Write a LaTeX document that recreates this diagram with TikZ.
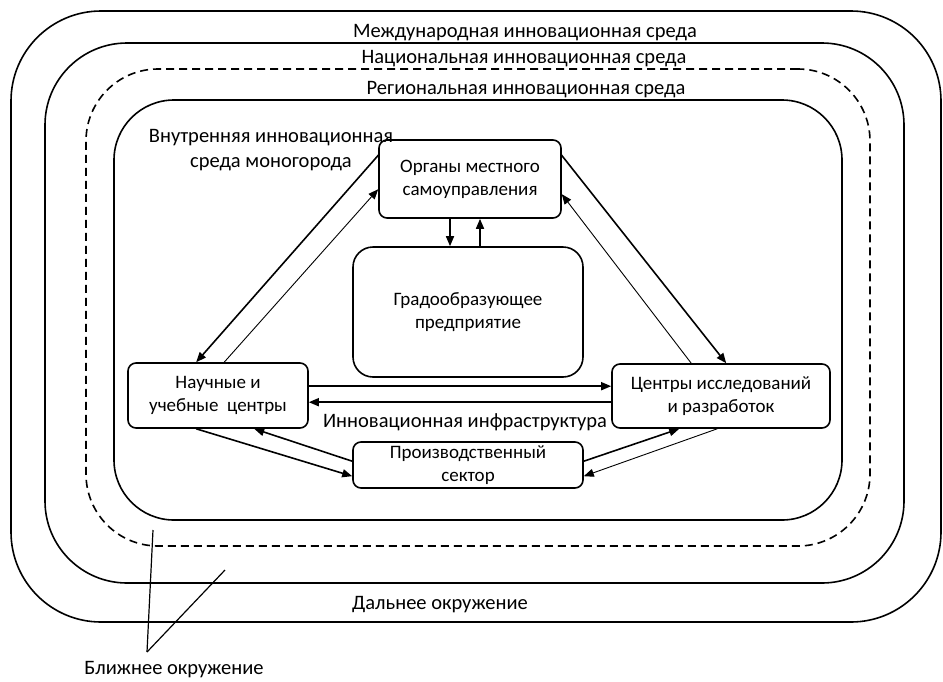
\documentclass[tikz,border=0pt]{standalone}
\usepackage{fontspec}
\setmainfont{Carlito}
\usetikzlibrary{arrows.meta,calc}
\tikzset{
  ring/.style={draw, line width=1.6pt, rectangle, inner sep=0pt},
  box/.style={draw, line width=1.6pt, rectangle, rounded corners=8pt, align=center, inner sep=0pt, font=\fontsize{19}{23}\selectfont},
  lbl/.style={font=\fontsize{20.5}{25}\selectfont, inner sep=0pt, align=center},
  thickarr/.style={line width=1.6pt, -{Triangle[length=10pt,width=8pt]}},
  thinarr/.style={line width=0.9pt, -{Triangle[length=10pt,width=8pt]}},
  plain/.style={line width=1.2pt}
}
\begin{document}
\begin{tikzpicture}[x=1pt,y=-1pt]
\useasboundingbox (0,0) rectangle (943,681);
% rings
\node[ring, rounded corners=90pt, minimum width=930pt, minimum height=611pt] (intl) at (476,316.5) {};
\node[ring, rounded corners=82pt, minimum width=859pt, minimum height=540pt] (natl) at (474.5,313) {};
\node[ring, dash pattern=on 8pt off 5pt, rounded corners=72pt, minimum width=784pt, minimum height=477pt] (regl) at (478,307.5) {};
\node[ring, rounded corners=60pt, minimum width=728pt, minimum height=420pt] (inner) at (478,310) {};
% ring labels
\node[lbl] (tintl) at (525,33) {Международная инновационная среда};
\node[lbl] (tnatl) at (524,59) {Национальная инновационная среда};
\node[lbl] (tregl) at (526,90) {Региональная инновационная среда};
\node[lbl] (tinner) at (271,150) {Внутренняя инновационная\\среда моногорода};
\node[lbl] (tfar) at (440,605) {Дальнее окружение};
\node[lbl] (tnear) at (174,670) {Ближнее окружение};
% boxes
\node[box, minimum width=182pt, minimum height=78pt] (org) at (470,179) {Органы местного\\самоуправления};
\node[box, rounded corners=20pt, minimum width=230pt, minimum height=130pt] (grad) at (468,312) {Градообразующее\\предприятие};
\node[box, minimum width=180pt, minimum height=65pt] (nauch) at (218,395.5) {Научные и\\учебные\ \ центры};
\node[box, minimum width=218pt, minimum height=64pt] (cent) at (721,396) {Центры исследований\\и разработок};
\node[box, minimum width=230pt, minimum height=46pt] (prod) at (468,465) {Производственный\\сектор};
% org <-> grad
\draw[thickarr] ($(org.south)+(-20,0)$) -- ($(grad.north)+(-18,0)$);
\draw[thickarr] ($(grad.north)+(12,0)$) -- ($(org.south)+(10,0)$);
% left diagonals
\draw[thickarr] ($(org.north west)+(1,15)$) -- ($(nauch.north west)+(69,0)$);
\draw[thinarr] ($(nauch.north west)+(97,0)$) -- ($(org.north west)+(0,50)$);
% right diagonals
\draw[thickarr] ($(org.north east)+(-1,15)$) -- ($(cent.north west)+(115,0)$);
\draw[thinarr] ($(cent.north west)+(80,0)$) -- ($(org.north east)+(0,55)$);
% horizontals
\draw[thickarr] ($(nauch.north east)+(0,24)$) -- ($(cent.north west)+(0,23)$);
\draw[thickarr] ($(cent.north west)+(0,39)$) -- ($(nauch.north east)+(0,40)$);
\node[lbl] (tinfra) at (465,422) {Инновационная инфраструктура};
% bottom left
\draw[thickarr] ($(nauch.south west)+(69,0)$) -- ($(prod.north west)+(0,35)$);
\draw[thickarr] ($(prod.north west)+(0,20)$) -- ($(nauch.south west)+(127,0)$);
% bottom right
\draw[thickarr] ($(prod.north east)+(0,20)$) -- ($(cent.south west)+(68,0)$);
\draw[thinarr] ($(cent.south west)+(106,0)$) -- ($(prod.north east)+(0,35)$);
% near-environment pointers
\coordinate (nearpt) at (147,652);
\draw[plain] (nearpt) -- (153,530);
\draw[plain] (nearpt) -- (225,570);
\end{tikzpicture}
\end{document}
